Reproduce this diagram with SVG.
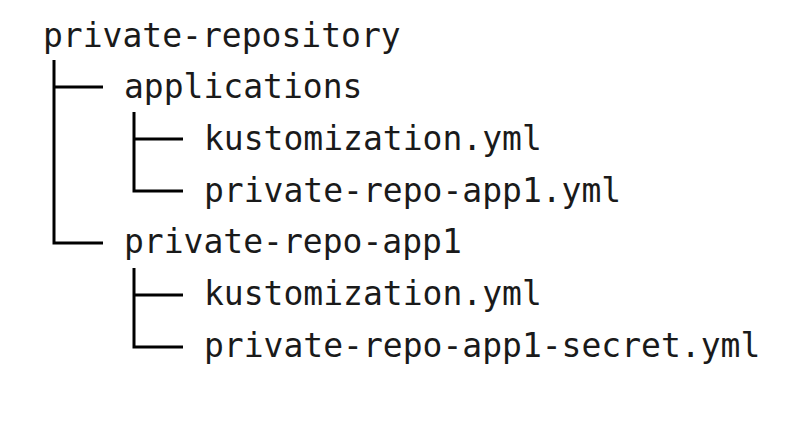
<svg xmlns="http://www.w3.org/2000/svg" width="800" height="424" viewBox="0 0 800 424">
<style>
text{font-family:"DejaVu Sans Mono","Liberation Mono",monospace;font-size:33px;fill:#1a1a1a}
.c{fill:none;stroke:#000;stroke-width:3}
</style>
<rect width="800" height="424" fill="#fff"/>
<g id="connectors">
<path class="c" d="M54,60 V243 H103"/>
<path class="c" d="M54,87 H103"/>
<path class="c" d="M134,112 V191 H183 M134,139 H183"/>
<path class="c" d="M134,268 V347 H183 M134,295 H183"/>
</g>
<g id="n-root"><text x="43" y="47">private-repository</text></g>
<g id="n-applications"><text x="124" y="98">applications</text></g>
<g id="n-kust1"><text x="204" y="150">kustomization.yml</text></g>
<g id="n-app1yml"><text x="204" y="202">private-repo-app1.yml</text></g>
<g id="n-app1"><text x="124" y="253">private-repo-app1</text></g>
<g id="n-kust2"><text x="204" y="305">kustomization.yml</text></g>
<g id="n-secret"><text x="204" y="357">private-repo-app1-secret.yml</text></g>
</svg>
